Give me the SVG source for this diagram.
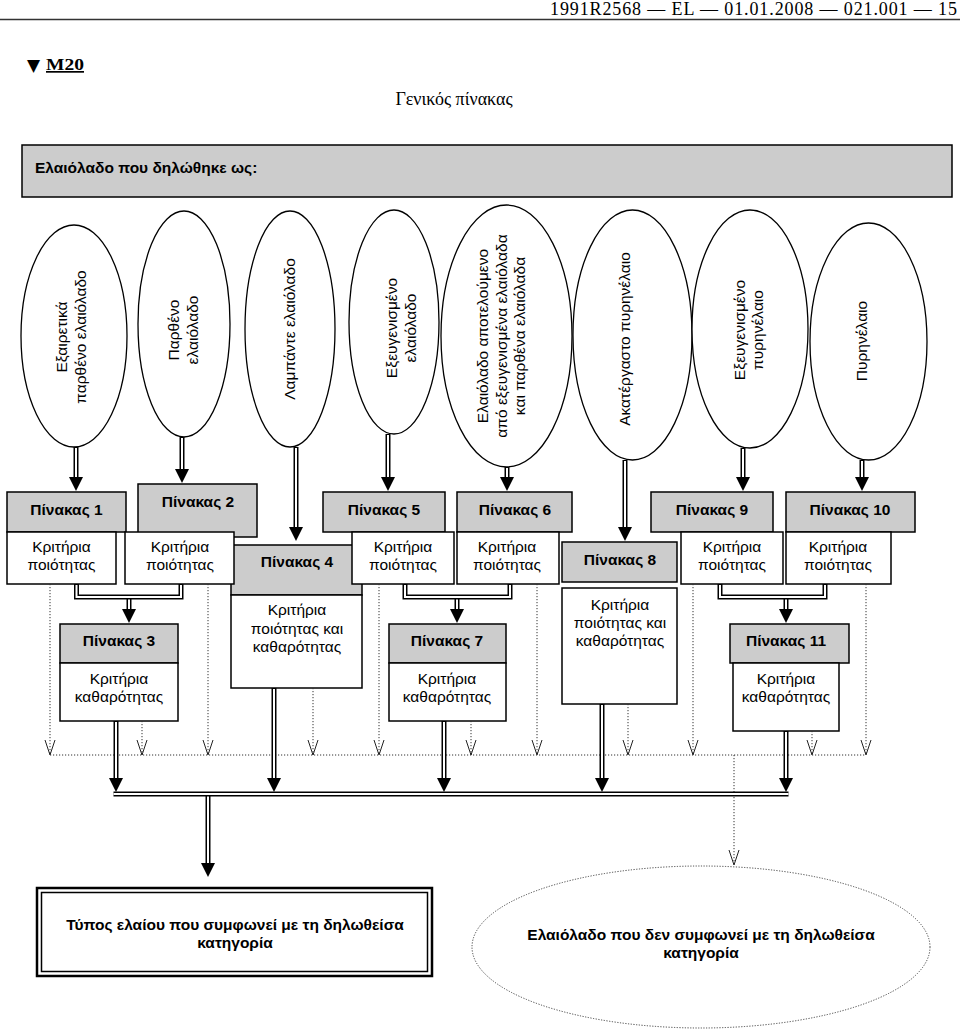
<svg xmlns="http://www.w3.org/2000/svg" width="960" height="1032" viewBox="0 0 960 1032">
<defs>
<style>
.hd{fill:#cccccc;stroke:#000;stroke-width:1.5}
.bx{fill:#fff;stroke:#000;stroke-width:1.5}
.el{fill:#fff;stroke:#000;stroke-width:1.3}
.t{font-family:"Liberation Sans",Arial,sans-serif;font-size:15.5px;fill:#000;text-anchor:middle}
.b{font-weight:bold}
.big{font-size:15.5px}
.dk{fill:none;stroke:#000;stroke-width:5}
.dw{fill:none;stroke:#fff;stroke-width:2}
.dot{fill:none;stroke:#333;stroke-width:1;stroke-dasharray:1.2 1.8}
.serif{font-family:"Liberation Serif","Times New Roman",serif;fill:#000}
</style>
<marker id="ah" markerUnits="userSpaceOnUse" markerWidth="14" markerHeight="14" viewBox="0 0 14 14" refX="0" refY="7" orient="auto">
<path d="M0,0 L14,7 L0,14 z" fill="#000"/>
</marker>
<marker id="vh" markerUnits="userSpaceOnUse" markerWidth="16" markerHeight="12" viewBox="0 0 16 12" refX="15" refY="6" orient="auto">
<path d="M0,1 L15,6 L0,11" fill="none" stroke="#222" stroke-width="1"/>
</marker>
</defs>
<rect width="960" height="1032" fill="#fff"/>

<g id="page-header">
<text class="serif" x="957" y="15" font-size="18" text-anchor="end" textLength="407" lengthAdjust="spacing">1991R2568 — EL — 01.01.2008 — 021.001 — 15</text>
<line x1="0" y1="19.5" x2="960" y2="19.5" stroke="#333" stroke-width="1.3"/>
<text x="27" y="71" font-family="DejaVu Sans,sans-serif" font-size="17">▼</text>
<text class="serif" x="46" y="70" font-size="17" font-weight="bold" text-decoration="underline" textLength="38" lengthAdjust="spacingAndGlyphs">M20</text>
<text class="serif" x="454" y="105" font-size="18" text-anchor="middle">Γενικός πίνακας</text>
</g>

<g id="declared">
<rect class="hd" x="22" y="145" width="930" height="52"/>
<text class="t b" x="35" y="173" style="text-anchor:start;font-size:15.5px">Ελαιόλαδο που δηλώθηκε ως:</text>
</g>

<g id="e1"><ellipse class="el" cx="74" cy="336" rx="53" ry="111"/>
<text class="t" transform="translate(67,337) rotate(-90)">Εξαιρετικά</text>
<text class="t" transform="translate(86,337) rotate(-90)">παρθένο ελαιόλαδο</text></g>
<g id="e2"><ellipse class="el" cx="184" cy="324" rx="46" ry="113"/>
<text class="t" transform="translate(179,330) rotate(-90)">Παρθένο</text>
<text class="t" transform="translate(198,330) rotate(-90)">ελαιόλαδο</text></g>
<g id="e3"><ellipse class="el" cx="290" cy="329" rx="45" ry="118"/>
<text class="t" transform="translate(295,329) rotate(-90)">Λαμπάντε ελαιόλαδο</text></g>
<g id="e4"><ellipse class="el" cx="394" cy="322" rx="45" ry="112"/>
<text class="t" transform="translate(397,328) rotate(-90)">Εξευγενισμένο</text>
<text class="t" transform="translate(416,328) rotate(-90)">ελαιόλαδο</text></g>
<g id="e5"><ellipse class="el" cx="506.5" cy="336" rx="65.5" ry="131"/>
<text class="t" transform="translate(488,336) rotate(-90)">Ελαιόλαδο αποτελούμενο</text>
<text class="t" transform="translate(507,336) rotate(-90)">από εξευγενισμένα ελαιόλαδα</text>
<text class="t" transform="translate(525,336) rotate(-90)">και παρθένα ελαιόλαδα</text></g>
<g id="e6"><ellipse class="el" cx="632.5" cy="335" rx="59.5" ry="125"/>
<text class="t" transform="translate(630,339) rotate(-90)">Ακατέργαστο πυρηνέλαιο</text></g>
<g id="e7"><ellipse class="el" cx="750" cy="329" rx="58" ry="119"/>
<text class="t" transform="translate(745,330) rotate(-90)">Εξευγενισμένο</text>
<text class="t" transform="translate(763,330) rotate(-90)">πυρηνέλαιο</text></g>
<g id="e8"><ellipse class="el" cx="868.5" cy="341.5" rx="58.5" ry="118.5"/>
<text class="t" transform="translate(867,341) rotate(-90)">Πυρηνέλαιο</text></g>

<g id="t4"><rect class="hd" x="231" y="545" width="131" height="50"/>
<text class="t b" x="297" y="567">Πίνακας 4</text>
<rect class="bx" x="231" y="595" width="131" height="93"/>
<text class="t" x="297" y="615">Κριτήρια</text>
<text class="t" x="297" y="634">ποιότητας και</text>
<text class="t" x="297" y="652">καθαρότητας</text></g>
<g id="t1"><rect class="hd" x="7" y="492" width="119" height="40"/>
<text class="t b" x="66.5" y="515">Πίνακας 1</text>
<rect class="bx" x="7" y="532" width="109" height="52"/>
<text class="t" x="61.5" y="552">Κριτήρια</text>
<text class="t" x="61.5" y="570">ποιότητας</text></g>
<g id="t2"><rect class="hd" x="138" y="484" width="119" height="53"/>
<text class="t b" x="198" y="507">Πίνακας 2</text>
<rect class="bx" x="125" y="532" width="109" height="52"/>
<text class="t" x="180" y="552">Κριτήρια</text>
<text class="t" x="180" y="570">ποιότητας</text></g>
<g id="t5"><rect class="hd" x="323" y="492" width="122" height="40"/>
<text class="t b" x="384" y="515">Πίνακας 5</text>
<rect class="bx" x="352" y="532" width="102" height="52"/>
<text class="t" x="403" y="552">Κριτήρια</text>
<text class="t" x="403" y="570">ποιότητας</text></g>
<g id="t6"><rect class="hd" x="457" y="492" width="115" height="40"/>
<text class="t b" x="515" y="515">Πίνακας 6</text>
<rect class="bx" x="457" y="532" width="102" height="52"/>
<text class="t" x="507" y="552">Κριτήρια</text>
<text class="t" x="507" y="570">ποιότητας</text></g>
<g id="t8"><rect class="hd" x="562" y="542" width="115" height="40"/>
<text class="t b" x="620" y="565">Πίνακας 8</text>
<rect class="bx" x="562" y="588" width="115" height="116"/>
<text class="t" x="620" y="610">Κριτήρια</text>
<text class="t" x="620" y="628">ποιότητας και</text>
<text class="t" x="620" y="646">καθαρότητας</text></g>
<g id="t9"><rect class="hd" x="651" y="492" width="122" height="40"/>
<text class="t b" x="712" y="515">Πίνακας 9</text>
<rect class="bx" x="681" y="532" width="102" height="52"/>
<text class="t" x="732" y="552">Κριτήρια</text>
<text class="t" x="732" y="570">ποιότητας</text></g>
<g id="t10"><rect class="hd" x="786" y="492" width="129" height="40"/>
<text class="t b" x="850" y="515">Πίνακας 10</text>
<rect class="bx" x="786" y="532" width="105" height="52"/>
<text class="t" x="838" y="552">Κριτήρια</text>
<text class="t" x="838" y="570">ποιότητας</text></g>
<g id="t3"><rect class="hd" x="60" y="624" width="118" height="39"/>
<text class="t b" x="119" y="646">Πίνακας 3</text>
<rect class="bx" x="60" y="663" width="118" height="58"/>
<text class="t" x="119" y="684">Κριτήρια</text>
<text class="t" x="119" y="702">καθαρότητας</text></g>
<g id="t7"><rect class="hd" x="389" y="624" width="117" height="39"/>
<text class="t b" x="447" y="646">Πίνακας 7</text>
<rect class="bx" x="389" y="663" width="117" height="58"/>
<text class="t" x="447" y="684">Κριτήρια</text>
<text class="t" x="447" y="702">καθαρότητας</text></g>
<g id="t11"><rect class="hd" x="730" y="624" width="119" height="39"/>
<text class="t b" x="786" y="646">Πίνακας 11</text>
<rect class="bx" x="733" y="663" width="106" height="68"/>
<text class="t" x="786" y="684">Κριτήρια</text>
<text class="t" x="786" y="702">καθαρότητας</text></g>

<g id="conforming"><rect x="37" y="888" width="395" height="88" fill="#fff" stroke="#000" stroke-width="2.5"/>
<rect x="41.5" y="892.5" width="386" height="79" fill="none" stroke="#000" stroke-width="1.5"/>
<text class="t b big" x="235" y="930">Τύπος ελαίου που συμφωνεί με τη δηλωθείσα</text>
<text class="t b big" x="235" y="948">κατηγορία</text></g>
<g id="nonconforming"><ellipse cx="701" cy="947" rx="229" ry="81" fill="#fff" stroke="#444" stroke-width="1" stroke-dasharray="1.2 1.5"/>
<text class="t b big" x="701" y="940">Ελαιόλαδο που δεν συμφωνεί με τη δηλωθείσα</text>
<text class="t b big" x="701" y="958">κατηγορία</text></g>

<g id="connectors">
<g id="dotted">
<path class="dot" d="M50,584V755" marker-end="url(#vh)"/>
<path class="dot" d="M142,721V755" marker-end="url(#vh)"/>
<path class="dot" d="M208,584V755" marker-end="url(#vh)"/>
<path class="dot" d="M313,688V755" marker-end="url(#vh)"/>
<path class="dot" d="M379,584V755" marker-end="url(#vh)"/>
<path class="dot" d="M471,721V755" marker-end="url(#vh)"/>
<path class="dot" d="M537,584V755" marker-end="url(#vh)"/>
<path class="dot" d="M628,704V755" marker-end="url(#vh)"/>
<path class="dot" d="M693,584V755" marker-end="url(#vh)"/>
<path class="dot" d="M812,731V755" marker-end="url(#vh)"/>
<path class="dot" d="M866,584V755" marker-end="url(#vh)"/>
<path class="dot" d="M50,755H866"/>
<path class="dot" d="M734,755V865" marker-end="url(#vh)"/>
</g>
<g id="double-black">
<path class="dk" d="M76,447V477" marker-end="url(#ah)"/>
<path class="dk" d="M182,437V469" marker-end="url(#ah)"/>
<path class="dk" d="M296,447V527" marker-end="url(#ah)"/>
<path class="dk" d="M388,434V477" marker-end="url(#ah)"/>
<path class="dk" d="M507,467V477" marker-end="url(#ah)"/>
<path class="dk" d="M625,460V527" marker-end="url(#ah)"/>
<path class="dk" d="M743,448V477" marker-end="url(#ah)"/>
<path class="dk" d="M862,460V477" marker-end="url(#ah)"/>
<path class="dk" d="M76.5,584V597H181V584"/>
<path class="dk" d="M405,584V597H510V584"/>
<path class="dk" d="M720,584V597H825V584"/>
<path class="dk" d="M129,597V609" marker-end="url(#ah)"/>
<path class="dk" d="M457,597V609" marker-end="url(#ah)"/>
<path class="dk" d="M786,597V609" marker-end="url(#ah)"/>
<path class="dk" d="M116,721V778" marker-end="url(#ah)"/>
<path class="dk" d="M274,688V778" marker-end="url(#ah)"/>
<path class="dk" d="M444,721V778" marker-end="url(#ah)"/>
<path class="dk" d="M602,704V778" marker-end="url(#ah)"/>
<path class="dk" d="M786,731V778" marker-end="url(#ah)"/>
<path class="dk" d="M113.5,794H788.5"/>
<path class="dk" d="M208,794V863" marker-end="url(#ah)"/>
</g>
<g id="double-white">
<path class="dw" d="M76,448V477"/>
<path class="dw" d="M182,438V469"/>
<path class="dw" d="M296,448V527"/>
<path class="dw" d="M388,435V477"/>
<path class="dw" d="M507,468V477"/>
<path class="dw" d="M625,461V527"/>
<path class="dw" d="M743,449V477"/>
<path class="dw" d="M862,461V477"/>
<path class="dw" d="M76.5,585V597H181V585"/>
<path class="dw" d="M405,585V597H510V585"/>
<path class="dw" d="M720,585V597H825V585"/>
<path class="dw" d="M129,599.5V609"/>
<path class="dw" d="M457,599.5V609"/>
<path class="dw" d="M786,599.5V609"/>
<path class="dw" d="M116,722V778"/>
<path class="dw" d="M274,689V778"/>
<path class="dw" d="M444,722V778"/>
<path class="dw" d="M602,705V778"/>
<path class="dw" d="M786,732V778"/>
<path class="dw" d="M113.5,794H788.5"/>
<path class="dw" d="M208,796.5V863"/>
</g>
</g>
</svg>
